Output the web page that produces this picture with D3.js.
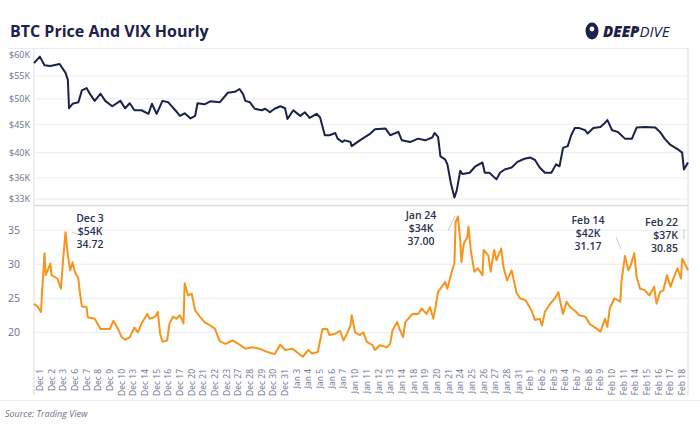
<!DOCTYPE html>
<html>
<head>
<meta charset="utf-8">
<script src="https://cdn.jsdelivr.net/npm/d3@7"></script>
<style>
  body { margin: 0; background: #fff; font-family: "Open Sans", sans-serif; }
  svg { display: block; }
</style>
</head>
<body>
<svg id="chart" width="700" height="428"></svg>
<script>
// trading-day labels on the x axis
const dayLabels = [
  'Dec 1', 'Dec 2', 'Dec 3', 'Dec 6', 'Dec 7', 'Dec 8', 'Dec 9', 'Dec 10', 'Dec 13', 'Dec 14',
  'Dec 15', 'Dec 16', 'Dec 17', 'Dec 20', 'Dec 21', 'Dec 22', 'Dec 23', 'Dec 27', 'Dec 28', 'Dec 29',
  'Dec 30', 'Dec 31', 'Jan 3', 'Jan 4', 'Jan 5', 'Jan 6', 'Jan 7', 'Jan 10', 'Jan 11', 'Jan 12',
  'Jan 13', 'Jan 14', 'Jan 18', 'Jan 19', 'Jan 20', 'Jan 21', 'Jan 24', 'Jan 25', 'Jan 26', 'Jan 27',
  'Jan 28', 'Jan 31', 'Feb 1', 'Feb 2', 'Feb 3', 'Feb 4', 'Feb 7', 'Feb 8', 'Feb 9', 'Feb 10',
  'Feb 11', 'Feb 14', 'Feb 15', 'Feb 16', 'Feb 17', 'Feb 18'
];

// BTC price (position in trading days, price in USD)
const btcDay = [0.0, 0.5, 0.9, 1.4, 2.2, 2.7, 2.9, 3.0, 3.3, 3.8, 4.1, 4.5, 4.8, 5.2, 5.7, 6.1, 6.7, 7.4, 7.8, 8.2,
  8.6, 9.2, 9.8, 10.1, 10.5, 11.0, 11.5, 12.1, 12.5, 12.9, 13.4, 13.8, 14.0, 14.6, 15.1, 15.9, 16.6, 17.2, 17.6, 17.9,
  18.1, 18.5, 18.9, 19.5, 19.8, 20.2, 20.6, 21.1, 21.5, 21.7, 22.2, 22.8, 23.2, 23.6, 24.2, 24.5, 24.9, 25.3, 25.8, 26.0,
  26.4, 26.6, 27.1, 27.2, 27.9, 28.8, 29.2, 30.1, 30.5, 31.2, 31.5, 32.2, 32.9, 33.5, 34.1, 34.3, 34.6, 34.8, 35.2, 35.4,
  35.7, 36.0, 36.2, 36.5, 36.7, 37.3, 37.8, 38.4, 38.6, 39.0, 39.6, 39.9, 40.3, 40.9, 41.4, 42.0, 42.5, 42.9, 43.3, 43.75,
  44.3, 44.7, 45.0, 45.3, 45.7, 46.0, 46.3, 46.7, 47.2, 47.4, 47.9, 48.5, 48.9, 49.1, 49.5, 50.0, 50.6, 51.2, 51.6, 52.3,
  53.2, 53.6, 54.0, 54.5, 55.1, 55.5, 55.65, 56.0];
const btcPrice = [58.0, 59.6, 57.5, 57.3, 57.8, 55.7, 54.1, 48.1, 49.0, 49.3, 51.8, 52.3, 51.0, 49.6, 51.1, 49.6, 48.5, 49.6, 48.1, 49.1,
  47.7, 47.7, 47.0, 49.0, 47.0, 49.6, 49.3, 47.7, 46.6, 47.1, 46.1, 46.6, 49.1, 48.9, 49.5, 49.3, 51.3, 51.5, 52.1, 51.0,
  49.6, 49.3, 48.0, 47.7, 48.0, 47.3, 48.0, 48.5, 48.1, 46.0, 47.7, 46.6, 47.3, 46.2, 47.0, 46.3, 43.0, 43.0, 43.4, 42.4,
  41.8, 42.1, 41.8, 41.1, 42.1, 43.3, 44.1, 44.2, 43.0, 43.6, 42.1, 41.8, 42.4, 42.1, 42.6, 43.4, 42.7, 39.4, 38.9, 38.1,
  35.2, 33.2, 34.2, 37.1, 36.6, 36.8, 37.8, 38.4, 36.8, 36.8, 35.8, 36.8, 37.3, 37.6, 38.5, 39.0, 39.2, 38.8, 37.6, 36.8,
  36.8, 38.1, 37.8, 40.8, 41.1, 43.0, 44.3, 44.3, 43.9, 43.3, 44.3, 44.5, 45.3, 45.8, 43.9, 43.6, 42.4, 42.4, 44.4, 44.5,
  44.4, 43.6, 42.4, 41.3, 40.6, 40.0, 37.3, 38.4].map(d => d * 1000);

// VIX (position in trading days, index level)
const vixDay = [0.0, 0.3, 0.6, 0.7, 0.9, 1.0, 1.4, 1.5, 2.0, 2.3, 2.5, 2.7, 2.9, 3.1, 3.3, 3.5, 3.8, 3.9, 4.1, 4.5,
  4.6, 5.2, 5.7, 6.5, 6.8, 7.2, 7.5, 7.8, 8.2, 8.6, 8.9, 9.2, 9.7, 9.9, 10.4, 10.6, 10.8, 11.0, 11.4, 11.6,
  11.9, 12.2, 12.5, 12.8, 12.9, 13.2, 13.5, 13.8, 14.2, 14.6, 15.1, 15.5, 15.9, 16.4, 17.0, 17.5, 18.1, 18.7, 19.3, 20.0,
  20.6, 21.1, 21.5, 22.1, 22.5, 23.0, 23.5, 23.8, 24.3, 24.5, 24.7, 25.1, 25.3, 25.8, 26.2, 26.5, 26.8, 27.1, 27.2, 27.5,
  27.9, 28.2, 28.5, 29.0, 29.2, 29.6, 30.2, 30.5, 30.7, 31.1, 31.3, 31.6, 31.8, 32.4, 32.9, 33.2, 33.6, 33.9, 34.2, 34.6,
  35.2, 35.4, 35.8, 36.0, 36.1, 36.3, 36.5, 36.6, 36.8, 37.1, 37.2, 37.4, 37.7, 38.0, 38.4, 38.5, 38.9, 39.1, 39.4, 39.6,
  40.0, 40.2, 40.5, 40.9, 41.3, 41.6, 42.1, 42.6, 42.9, 43.3, 43.5, 43.75, 44.2, 44.6, 44.9, 45.1, 45.3, 45.6, 45.9, 46.3,
  46.7, 47.2, 47.6, 48.2, 48.5, 48.9, 49.1, 49.3, 49.7, 50.2, 50.3, 50.6, 50.9, 51.1, 51.4, 51.6, 51.9, 52.3, 52.7, 53.1,
  53.3, 53.6, 53.9, 54.2, 54.5, 54.8, 55.1, 55.4, 55.5, 55.8, 56.0];
const vixValue = [24.2, 23.8, 23.0, 26.2, 31.6, 28.4, 30.1, 28.4, 27.9, 26.4, 30.8, 34.7, 31.3, 29.1, 30.3, 28.9, 27.9, 26.2, 23.8, 23.7,
  22.2, 22.0, 20.5, 20.5, 21.7, 20.5, 19.3, 18.9, 19.3, 20.7, 20.0, 21.3, 22.7, 22.0, 22.3, 23.0, 19.8, 18.6, 18.8, 21.3,
  22.3, 22.0, 22.5, 21.3, 27.2, 25.4, 25.7, 23.2, 22.3, 21.5, 21.0, 20.5, 18.7, 18.3, 18.8, 18.3, 17.6, 17.8, 17.6, 17.1,
  16.8, 18.2, 17.4, 17.6, 17.1, 16.4, 17.4, 16.9, 17.1, 18.8, 20.5, 20.5, 19.6, 19.8, 20.2, 18.8, 19.8, 21.0, 22.5, 20.0,
  19.6, 20.0, 18.6, 18.1, 17.4, 18.1, 17.8, 18.3, 20.3, 21.5, 20.5, 19.3, 21.5, 22.7, 22.7, 23.5, 22.7, 23.7, 22.0, 25.9,
  27.4, 26.4, 29.1, 30.1, 36.2, 37.0, 33.5, 30.3, 33.0, 34.0, 35.5, 32.1, 28.9, 29.4, 28.4, 32.1, 31.3, 28.9, 32.1, 30.6,
  32.3, 29.6, 27.6, 29.1, 25.9, 25.0, 24.7, 23.2, 21.8, 22.0, 21.0, 23.0, 24.2, 25.0, 25.9, 24.2, 22.7, 24.5, 23.7, 23.2,
  22.5, 22.3, 21.2, 20.5, 20.1, 22.0, 20.8, 23.5, 25.0, 24.5, 27.4, 31.2, 29.1, 29.9, 31.6, 28.1, 26.4, 26.2, 25.4, 26.7,
  24.2, 25.9, 26.2, 28.4, 26.7, 28.1, 29.4, 27.9, 30.8, 29.9, 29.1];

const btcTicks = [33000, 36000, 40000, 45000, 50000, 55000, 60000];
const vixTicks = [20, 25, 30, 35];

const callouts = [
  { day: 2.7, lines: ['Dec 3', '$54K', '34.72'] },
  { day: 36.3, lines: ['Jan 24', '$34K', '37.00'] },
  { day: 50.6, lines: ['Feb 14', '$42K', '31.17'] },
  { day: 55.6, lines: ['Feb 22', '$37K', '30.85'] }
];

const NAVY = '#1b2148';
const ORANGE = '#f7941d';
const GRID = '#ececf0';
const TEXT = '#6b7190';

const svg = d3.select('#chart');
const left = 34;
const right = 688;

const x = d3.scaleLinear().domain([0, dayLabels.length]).range([left, right]);
const yBtc = d3.scaleLog().domain([33000, 60000]).range([199, 55]);
const yVix = d3.scaleLinear().domain([15.2, 38.4]).range([365, 207]);

// title + logo
svg.append('text').attr('x', 10).attr('y', 37)
  .attr('font-size', 16).attr('font-weight', 700).attr('fill', NAVY)
  .text('BTC Price And VIX Hourly');

const logo = svg.append('g').attr('transform', 'translate(592,31)');
logo.append('ellipse').attr('rx', 6.5).attr('ry', 8.5).attr('fill', NAVY);
logo.append('circle').attr('cy', -2).attr('r', 2.4).attr('fill', '#fff');
logo.append('text').attr('x', 11).attr('y', 6)
  .attr('font-size', 15).attr('font-style', 'italic').attr('fill', NAVY)
  .call(t => {
    t.append('tspan').attr('font-weight', 800).text('DEEP');
    t.append('tspan').attr('font-weight', 400).text('DIVE');
  });

// frame
svg.append('line').attr('x1', 8).attr('x2', right).attr('y1', 48.5).attr('y2', 48.5).attr('stroke', GRID);
svg.append('line').attr('x1', left).attr('x2', right).attr('y1', 205.5).attr('y2', 205.5).attr('stroke', '#dcdce2').attr('stroke-width', 1.5);
svg.append('line').attr('x1', left).attr('x2', left).attr('y1', 48).attr('y2', 395).attr('stroke', '#dcdce2');
svg.append('line').attr('x1', right).attr('x2', right).attr('y1', 48).attr('y2', 395).attr('stroke', '#dcdce2');

// gridlines
svg.append('g').selectAll('line').data(btcTicks.slice(0, -1)).join('line')
  .attr('x1', left).attr('x2', right)
  .attr('y1', d => yBtc(d)).attr('y2', d => yBtc(d))
  .attr('stroke', GRID);
svg.append('g').selectAll('line').data(vixTicks).join('line')
  .attr('x1', left).attr('x2', right)
  .attr('y1', d => yVix(d)).attr('y2', d => yVix(d))
  .attr('stroke', GRID);

// y axes
const fmtK = d => `$${d / 1000}K`;
svg.append('g').attr('transform', `translate(${left},0)`)
  .call(d3.axisLeft(yBtc).tickValues(btcTicks).tickFormat(fmtK).tickSize(0).tickPadding(4))
  .call(g => g.select('.domain').remove())
  .selectAll('text').attr('font-size', 9).attr('fill', TEXT).attr('font-family', 'Open Sans');
svg.append('g').attr('transform', `translate(${left},0)`)
  .call(d3.axisLeft(yVix).tickValues(vixTicks).tickSize(0).tickPadding(14))
  .call(g => g.select('.domain').remove())
  .selectAll('text').attr('font-size', 10.5).attr('fill', TEXT).attr('font-family', 'Open Sans');

// x labels
svg.append('g').selectAll('text').data(dayLabels).join('text')
  .attr('transform', (d, i) => `translate(${x(i + 0.5) + 3},369) rotate(-90)`)
  .attr('text-anchor', 'end')
  .attr('font-size', 8.5).attr('fill', TEXT)
  .text(d => d);

// lines
const btcLine = d3.line().x(d => x(d[0])).y(d => yBtc(d[1]));
svg.append('path').datum(d3.zip(btcDay, btcPrice))
  .attr('d', btcLine).attr('fill', 'none')
  .attr('stroke', NAVY).attr('stroke-width', 2).attr('stroke-linejoin', 'round');

const vixLine = d3.line().x(d => x(d[0])).y(d => yVix(d[1]));
svg.append('path').datum(d3.zip(vixDay, vixValue))
  .attr('d', vixLine).attr('fill', 'none')
  .attr('stroke', ORANGE).attr('stroke-width', 2).attr('stroke-linejoin', 'round');

// callouts
const labelPos = [
  { tx: 90, anchor: 'middle', ty: 222, lx1: 72, ly1: 232, lx2: 79, ly2: 235 },
  { tx: 421, anchor: 'middle', ty: 219, lx1: 455, ly1: 216, lx2: 448, ly2: 231 },
  { tx: 588, anchor: 'middle', ty: 224, lx1: 621, ly1: 249, lx2: 616, ly2: 237 },
  { tx: 678, anchor: 'end', ty: 226, lx1: 684, ly1: 239, lx2: 684, ly2: 229 }
];
callouts.forEach((c, i) => {
  const p = labelPos[i];
  svg.append('line').attr('x1', p.lx1).attr('y1', p.ly1).attr('x2', p.lx2).attr('y2', p.ly2)
    .attr('stroke', '#b8bccb').attr('stroke-width', 0.8);
  const t = svg.append('text').attr('text-anchor', p.anchor)
    .attr('font-size', 10.5).attr('font-weight', 600).attr('fill', '#2a3152');
  c.lines.forEach((l, j) => {
    t.append('tspan').attr('x', p.tx).attr('y', p.ty + j * 13).text(l);
  });
});

// source
svg.append('line').attr('x1', 0).attr('x2', 700).attr('y1', 400.5).attr('y2', 400.5).attr('stroke', GRID);
svg.append('text').attr('x', 5).attr('y', 417)
  .attr('font-size', 9).attr('font-style', 'italic').attr('fill', TEXT)
  .text('Source: Trading View');
</script>
</body>
</html>
